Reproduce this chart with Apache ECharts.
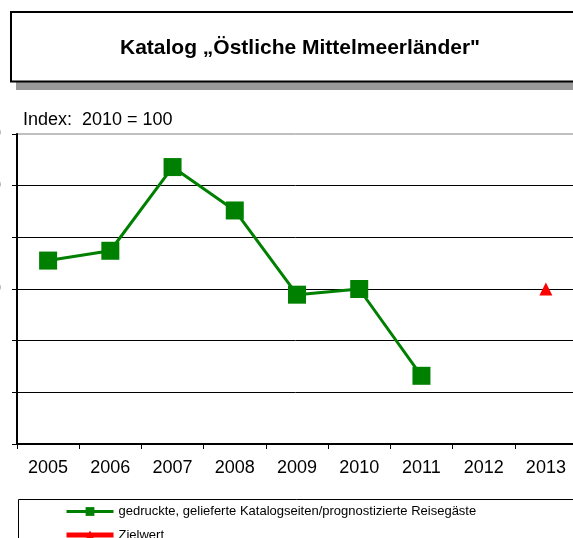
<!DOCTYPE html>
<html>
<head>
<meta charset="utf-8">
<script src="https://cdn.jsdelivr.net/npm/echarts@6/dist/echarts.min.js"></script>
<style>
html,body{margin:0;padding:0;background:#fff;}
#c{width:573px;height:538px;}
</style>
</head>
<body>
<div id="c"></div>
<script>
var years = ['2005','2006','2007','2008','2009','2010','2011','2012','2013'];
var kataloge = [105.5, 107.4, 123.6, 115.2, 98.9, 100, 83.2, null, null];
var zielwert = [null, null, null, null, null, null, null, null, 100];
var seriesNames = ['gedruckte, gelieferte Katalogseiten/prognostizierte Reisegäste', 'Zielwert'];
var titleText = 'Katalog \u201EÖstliche Mittelmeerländer"';
var subText = 'Index:  2010 = 100';

var font = 'Arial, "Liberation Sans", sans-serif';
var chart = echarts.init(document.getElementById('c'), null, {renderer: 'canvas'});
chart.setOption({
  animation: false,
  backgroundColor: '#fff',
  textStyle: {fontFamily: font},
  graphic: [
    {type: 'rect', z: 0, shape: {x: 16, y: 20, width: 620, height: 70}, style: {fill: '#999999'}},
    {type: 'rect', z: 1, shape: {x: 11, y: 12, width: 620, height: 69.5}, style: {fill: '#fff', stroke: '#000', lineWidth: 2}},
    {type: 'rect', z: 0, shape: {x: 18.5, y: 499.5, width: 620, height: 100}, style: {fill: 'none', stroke: '#000', lineWidth: 1}}
  ],
  title: [
    {text: titleText, left: 295, top: 33, textAlign: 'center', z: 10,
     textStyle: {fontFamily: font, fontSize: 21, fontWeight: 'bold', color: '#000'}},
    {text: subText, left: 23, top: 111, padding: 0,
     textStyle: {fontFamily: font, fontSize: 18, fontWeight: 'normal', color: '#000'}}
  ],
  legend: {
    orient: 'vertical', left: 64, top: 505, height: 100, padding: 0,
    itemWidth: 47, itemHeight: 11, itemGap: 10.5,
    textStyle: {fontFamily: font, fontSize: 13, color: '#000'},
    data: [
      {name: seriesNames[0], lineStyle: {width: 3}},
      {name: seriesNames[1], lineStyle: {width: 5}}
    ]
  },
  grid: {left: 17, top: 134, width: 560, bottom: 94, show: true, borderColor: '#808080', borderWidth: 1,
         containLabel: false, outerBoundsMode: 'none'},
  xAxis: {
    type: 'category', data: years, boundaryGap: true,
    axisLine: {lineStyle: {color: '#000', width: 2}},
    axisTick: {show: true, length: 5, lineStyle: {color: '#000'}},
    axisLabel: {fontFamily: font, fontSize: 18, color: '#000', margin: 15, interval: 0}
  },
  yAxis: {
    type: 'value', min: 70, max: 130, interval: 10,
    axisLine: {show: true, lineStyle: {color: '#000', width: 2}},
    axisTick: {show: true, length: 5, lineStyle: {color: '#000'}},
    axisLabel: {fontFamily: font, fontSize: 18, color: '#000', margin: 46, align: 'left'},
    splitLine: {show: true, showMaxLine: false, showMinLine: false, lineStyle: {color: '#000', width: 1}}
  },
  series: [
    {name: seriesNames[0], type: 'line', data: kataloge, symbol: 'rect', symbolSize: 18,
     itemStyle: {color: '#008000'}, lineStyle: {color: '#008000', width: 3}, z: 5},
    {name: seriesNames[1], type: 'line', data: zielwert, symbol: 'triangle', symbolSize: 13,
     itemStyle: {color: '#ff0000'}, lineStyle: {color: '#ff0000', width: 5}, z: 6}
  ]
});
</script>
</body>
</html>
